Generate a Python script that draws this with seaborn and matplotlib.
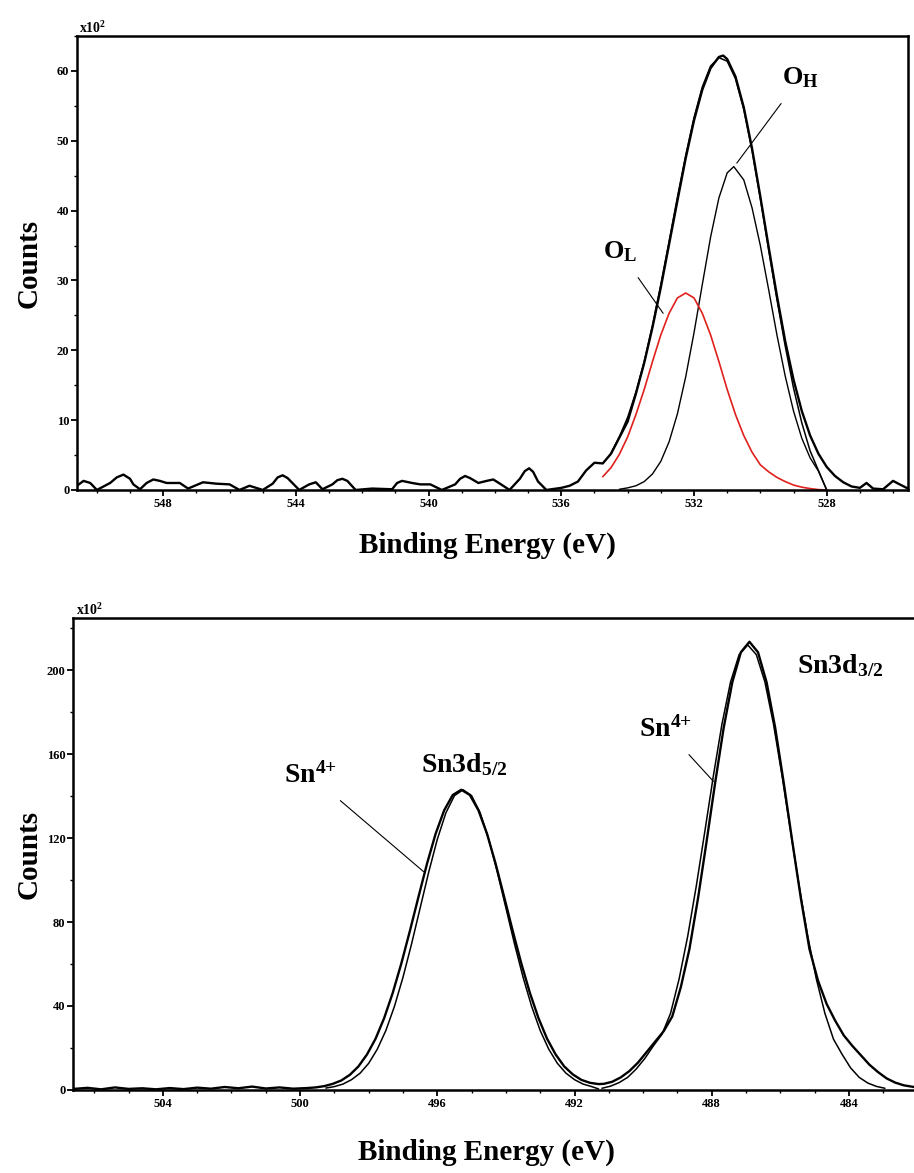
import numpy as np
import pandas as pd
import matplotlib
matplotlib.use("Agg")
import matplotlib.pyplot as plt
from matplotlib.ticker import MultipleLocator
import seaborn as sns

# ---------------- O 1s (top panel) ----------------
o_raw_E = [550.6, 550.4, 550.2, 550.0, 549.6, 549.4, 549.2, 549.0, 548.9, 548.7, 548.5, 548.3,
           548.1, 547.9, 547.5, 547.25, 547.0, 546.8, 546.4, 546.0, 545.7, 545.4, 545.0, 544.7,
           544.55, 544.4, 544.25, 543.9, 543.6, 543.4, 543.2, 542.9, 542.75, 542.6, 542.45,
           542.2, 541.7, 541.1, 540.95, 540.8, 540.5, 540.25, 539.95, 539.6, 539.2, 539.05,
           538.9, 538.75, 538.5, 538.25, 538.05, 537.85, 537.56, 537.25, 537.1, 536.97, 536.85,
           536.7, 536.45, 536.0, 535.75, 535.5, 535.25, 535.0, 534.75, 534.5, 534.25, 534.0,
           533.75, 533.5, 533.25, 533.0, 532.75, 532.5, 532.25, 532.0, 531.75, 531.5, 531.25,
           531.12, 531.0, 530.75, 530.5, 530.25, 530.0, 529.75, 529.5, 529.25, 529.0, 528.75,
           528.5, 528.25, 528.0, 527.75, 527.5, 527.25, 527.0, 526.8, 526.6, 526.3, 526.0,
           525.8, 525.55]
o_raw_C = [0.6, 1.3, 1.0, 0.0, 1.0, 1.8, 2.2, 1.6, 0.8, 0.1, 1.0, 1.5,
           1.3, 1.0, 1.0, 0.2, 0.7, 1.1, 0.9, 0.8, 0.0, 0.6, 0.0, 0.9,
           1.8, 2.1, 1.7, 0.0, 0.8, 1.1, 0.1, 0.8, 1.4, 1.6, 1.3,
           0.0, 0.2, 0.1, 1.0, 1.3, 1.0, 0.8, 0.8, 0.0, 0.8, 1.6,
           2.0, 1.7, 1.0, 1.3, 1.5, 0.9, 0.0, 1.6, 2.7, 3.1, 2.6,
           1.2, 0.0, 0.3, 0.6, 1.2, 2.8, 3.9, 3.8, 5.2, 7.5, 9.8,
           13.8, 18.2, 23.3, 29.0, 35.2, 41.4, 47.5, 52.9, 57.3, 60.4, 62.0,
           62.2, 61.7, 59.2, 54.8, 48.9, 42.0, 34.8, 27.8, 21.3, 15.8, 11.3,
           7.8, 5.2, 3.3, 2.0, 1.1, 0.5, 0.3, 1.0, 0.2, 0.1, 1.3,
           0.8, 0.2]

o_fit_E = [534.5, 534.25, 534.0, 533.75, 533.5, 533.25, 533.0, 532.75, 532.5, 532.25, 532.0,
           531.75, 531.5, 531.25, 531.0, 530.75, 530.5, 530.25, 530.0, 529.75, 529.5, 529.25,
           529.0, 528.75, 528.5, 528.25, 528.0]
o_fit_C = [5.3, 7.6, 10.4, 14.0, 18.4, 23.6, 29.4, 35.6, 41.9, 47.9, 53.3,
           57.7, 60.7, 61.9, 61.4, 58.9, 54.5, 48.6, 41.7, 34.4, 27.3, 20.6,
           14.6, 9.6, 5.6, 2.8, 0.0]

oh_E = [534.25, 534.0, 533.75, 533.5, 533.25, 533.0, 532.75, 532.5, 532.25, 532.0, 531.75,
        531.5, 531.25, 531.0, 530.8, 530.5, 530.25, 530.0, 529.75, 529.5, 529.25, 529.0,
        528.75, 528.5, 528.25, 528.0]
oh_C = [0.1, 0.3, 0.6, 1.2, 2.3, 4.1, 6.9, 10.9, 16.2, 22.5, 29.4,
        36.2, 41.8, 45.4, 46.3, 44.4, 40.4, 35.0, 28.7, 22.2, 16.3, 11.3,
        7.4, 4.6, 2.7, 0.0]

ol_E = [534.75, 534.5, 534.25, 534.0, 533.75, 533.5, 533.25, 533.0, 532.75, 532.5, 532.25,
        532.0, 531.75, 531.5, 531.25, 531.0, 530.75, 530.5, 530.25, 530.0, 529.75, 529.5,
        529.25, 529.0, 528.75, 528.5, 528.25, 528.0]
ol_C = [1.9, 3.2, 5.1, 7.6, 10.8, 14.4, 18.4, 22.2, 25.3, 27.5, 28.2,
        27.5, 25.3, 22.2, 18.4, 14.4, 10.8, 7.8, 5.4, 3.6, 2.6, 1.8,
        1.2, 0.7, 0.4, 0.2, 0.05, 0.0]

# ---------------- Sn 3d (bottom panel) ----------------
sn_raw_E = [506.6, 506.2, 505.8, 505.4, 505.0, 504.6, 504.2, 503.8, 503.4, 503.0, 502.6, 502.2,
            501.8, 501.4, 501.0, 500.6, 500.2, 499.8, 499.55, 499.3, 499.05, 498.8, 498.55,
            498.3, 498.05, 497.8, 497.55, 497.3, 497.05, 496.8, 496.55, 496.3, 496.05, 495.8,
            495.55, 495.3, 495.05, 494.8, 494.55, 494.3, 494.05, 493.8, 493.55, 493.3, 493.05,
            492.8, 492.55, 492.3, 492.05, 491.8, 491.55, 491.3, 491.15, 490.9, 490.65, 490.4,
            490.15, 489.9, 489.65, 489.4, 489.15, 488.9, 488.65, 488.4, 488.15, 487.9, 487.65,
            487.4, 487.15, 486.9, 486.65, 486.4, 486.15, 485.9, 485.65, 485.4, 485.15, 484.9,
            484.65, 484.4, 484.15, 483.9, 483.65, 483.4, 483.15, 482.9, 482.65, 482.4, 482.1,
            481.8]
sn_raw_C = [0.5, 1.0, 0.3, 1.2, 0.5, 0.8, 0.3, 0.9, 0.4, 1.1, 0.6, 1.4,
            0.8, 1.6, 0.7, 1.2, 0.6, 0.9, 1.2, 1.8, 2.9, 4.5, 7.2,
            11.2, 16.9, 24.4, 34.2, 46.2, 60.2, 75.7, 91.9, 107.8, 122.0, 133.2,
            140.5, 143.0, 140.5, 133.2, 122.0, 107.8, 91.9, 75.7, 60.2, 46.2, 34.2,
            24.4, 16.9, 11.2, 7.4, 4.8, 3.4, 2.8, 2.9, 3.9, 6.0, 9.0,
            13.0, 18.0, 23.0, 28.0, 35.0, 49.0, 67.1, 91.2, 118.3, 146.3, 172.6,
            194.2, 208.5, 213.5, 208.5, 194.2, 172.6, 146.3, 118.3, 91.2, 67.1, 52.0,
            41.0, 33.0, 26.0, 21.0, 16.5, 12.0, 8.5, 5.5, 3.5, 2.2, 1.4,
            1.0]

sn52_fit_E = [499.25, 499.0, 498.75, 498.5, 498.25, 498.0, 497.75, 497.5, 497.25, 497.0, 496.75,
              496.5, 496.25, 496.0, 495.75, 495.5, 495.25, 495.0, 494.75, 494.5, 494.25, 494.0,
              493.75, 493.5, 493.25, 493.0, 492.75, 492.5, 492.25, 492.0, 491.75, 491.5, 491.3]
sn52_fit_C = [0.9, 1.6, 2.8, 4.9, 8.0, 12.7, 19.4, 28.3, 39.8, 53.7, 69.6,
              86.7, 103.8, 119.4, 132.0, 140.2, 143.0, 140.2, 132.0, 119.4, 103.8, 86.7,
              69.6, 53.7, 39.8, 28.3, 19.4, 12.7, 8.0, 4.9, 2.8, 1.6, 0.5]

sn32_fit_E = [491.2, 490.95, 490.7, 490.45, 490.2, 489.95, 489.7, 489.45, 489.2, 488.95, 488.7,
              488.45, 488.2, 487.95, 487.7, 487.45, 487.2, 486.95, 486.7, 486.45, 486.2, 485.95,
              485.7, 485.45, 485.2, 484.95, 484.7, 484.45, 484.2, 483.95, 483.7, 483.45, 483.2,
              482.95]
sn32_fit_C = [0.8, 1.8, 3.5, 6.0, 10.0, 15.0, 21.0, 26.5, 36.5, 52.9, 73.2,
              97.1, 123.2, 149.8, 174.4, 194.4, 207.4, 212.0, 207.4, 194.4, 174.4, 149.8,
              123.2, 97.1, 73.2, 52.9, 36.5, 24.2, 17.0, 10.5, 6.0, 3.3, 1.7,
              0.8]

top_xticks = [548, 544, 540, 536, 532, 528]
top_yticks = [0, 10, 20, 30, 40, 50, 60]
bot_xticks = [504, 500, 496, 492, 488, 484]
bot_yticks = [0, 40, 80, 120, 160, 200]

# ---------------- styling ----------------
sns.set_style("ticks")
plt.rcParams["font.family"] = ["Liberation Serif", "DejaVu Serif"]
plt.rcParams["font.weight"] = "bold"
plt.rcParams["text.color"] = "black"
plt.rcParams["axes.labelcolor"] = "black"
plt.rcParams["xtick.color"] = "black"
plt.rcParams["ytick.color"] = "black"
plt.rcParams["mathtext.fontset"] = "custom"
plt.rcParams["mathtext.rm"] = "Liberation Serif:bold"
plt.rcParams["mathtext.bf"] = "Liberation Serif:bold"
plt.rcParams["mathtext.it"] = "Liberation Serif:bold"

fig = plt.figure(figsize=(9.14, 11.73), dpi=100)
ax1 = fig.add_axes([0.0842, 0.5823, 0.9092, 0.3870])
ax2 = fig.add_axes([0.0799, 0.0708, 0.9322, 0.4023])


def draw(ax, E, C, color, lw):
    df = pd.DataFrame({"E": E, "C": C})
    sns.lineplot(data=df, x="E", y="C", ax=ax, color=color, linewidth=lw,
                 sort=False, estimator=None)


draw(ax1, o_raw_E, o_raw_C, "black", 1.7)
draw(ax1, o_fit_E, o_fit_C, "black", 1.1)
draw(ax1, oh_E, oh_C, "black", 1.0)
draw(ax1, ol_E, ol_C, "#e0201c", 1.2)

draw(ax2, sn_raw_E, sn_raw_C, "black", 1.7)
draw(ax2, sn52_fit_E, sn52_fit_C, "black", 1.1)
draw(ax2, sn32_fit_E, sn32_fit_C, "black", 1.1)

ax1.set_xlim(550.6, 525.55)
ax1.set_ylim(0, 65)
ax2.set_xlim(506.62, 481.78)
ax2.set_ylim(0, 224.8)

ax1.set_xticks(top_xticks)
ax1.set_yticks(top_yticks)
ax2.set_xticks(bot_xticks)
ax2.set_yticks(bot_yticks)
ax1.xaxis.set_minor_locator(MultipleLocator(1))
ax1.yaxis.set_minor_locator(MultipleLocator(5))
ax2.xaxis.set_minor_locator(MultipleLocator(1))
ax2.yaxis.set_minor_locator(MultipleLocator(20))

for ax in (ax1, ax2):
    for s in ax.spines.values():
        s.set_visible(True)
        s.set_linewidth(1.8)
        s.set_color("black")
    ax.tick_params(which="major", direction="out", length=4, width=1.3,
                   labelsize=9, pad=1.5, colors="black")
    ax.tick_params(which="minor", direction="out", length=2.5, width=1.0, colors="black")
    for lab in ax.get_xticklabels() + ax.get_yticklabels():
        lab.set_fontweight("bold")
    ax.set_xlabel("Binding Energy (eV)", fontsize=21, fontweight="bold")
    ax.set_ylabel("Counts", fontsize=21, fontweight="bold")
    ax.text(0.003, 1.0, r"x10$^{2}$", transform=ax.transAxes, ha="left", va="bottom",
            fontsize=10)

ax1.xaxis.set_label_coords(0.4934, -0.092)
ax1.yaxis.set_label_coords(-0.041, 0.5)
ax2.xaxis.set_label_coords(0.4847, -0.104)
ax2.yaxis.set_label_coords(-0.036, 0.5)

# annotations top
ax1.annotate(r"$\mathbf{O}_{\mathbf{H}}$", xy=(530.71, 46.8), xytext=(528.8, 59.0),
             fontsize=19, ha="center", va="center",
             arrowprops=dict(arrowstyle="-", color="black", lw=0.8,
                             shrinkA=9, shrinkB=0))
ax1.annotate(r"$\mathbf{O}_{\mathbf{L}}$", xy=(532.93, 25.3), xytext=(534.23, 34.1),
             fontsize=19, ha="center", va="center",
             arrowprops=dict(arrowstyle="-", color="black", lw=0.8,
                             shrinkA=9, shrinkB=0))

# annotations bottom
ax2.annotate(r"$\mathbf{Sn}^{\mathbf{4{+}}}$", xy=(496.4, 104.0), xytext=(499.7, 150.0),
             fontsize=20, ha="center", va="center",
             arrowprops=dict(arrowstyle="-", color="black", lw=0.8,
                             shrinkA=10, shrinkB=0))
ax2.annotate(r"$\mathbf{Sn}^{\mathbf{4{+}}}$", xy=(487.95, 147.0), xytext=(489.35, 172.0),
             fontsize=20, ha="center", va="center",
             arrowprops=dict(arrowstyle="-", color="black", lw=0.8,
                             shrinkA=9, shrinkB=0))
ax2.text(495.2, 155.0, r"$\mathbf{Sn3d}_{\mathbf{5/2}}$", fontsize=20, ha="center", va="center")
ax2.text(484.25, 202.0, r"$\mathbf{Sn3d}_{\mathbf{3/2}}$", fontsize=20, ha="center", va="center")

fig.savefig("out.png", dpi=100)
